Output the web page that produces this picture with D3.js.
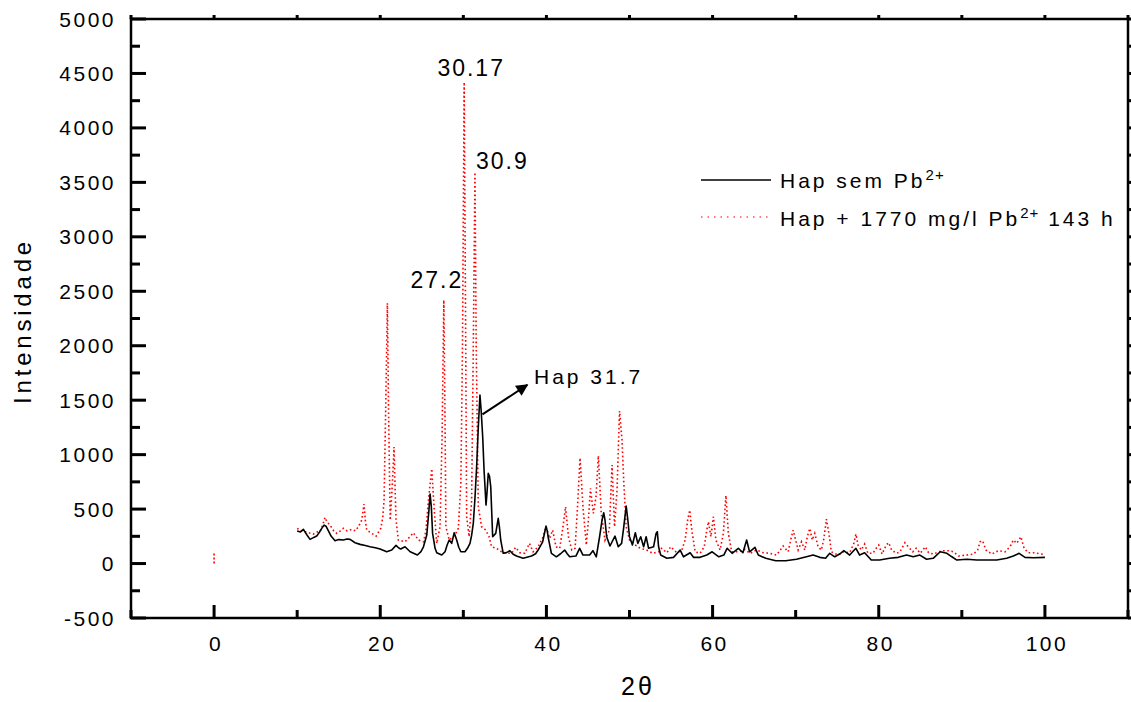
<!DOCTYPE html>
<meta charset="utf-8">
<style>
    body {
        margin: 0;
        background: #fff;
    }

    text {
        font-family: "Liberation Sans", Arial, sans-serif;
        fill: #000;
    }

    .ax text {
        font-size: 21px;
        letter-spacing: 2.5px;
    }

    .lbl {
        font-size: 21px;
        letter-spacing: 3px;
    }
</style>
<svg width="1131" height="702"></svg>
<script src="https://d3js.org/d3.v7.min.js"></script>
<script>
    var svg = d3.select("svg"),
        width = +svg.attr("width"),
        height = +svg.attr("height");

    // Hap sem Pb2+ (black, solid)
    var semTheta = [10.0, 10.4, 10.75, 11.2, 11.55, 12.0, 12.35, 12.7, 12.96, 13.24, 13.5, 13.76, 14.1, 14.56, 15.0, 15.56, 16.0, 16.37, 16.97, 17.57,
        18.2, 18.77, 19.4, 19.98, 20.78, 21.38, 21.9, 22.2, 22.46, 22.98, 23.6, 24.47, 24.9, 25.2, 25.6, 25.85, 26.0, 26.15, 26.3, 26.6,
        26.8, 27.4, 27.8, 28.05, 28.3, 28.6, 28.9, 29.2, 29.45, 29.7, 30.2, 30.5, 30.8, 31.0, 31.2, 31.4, 31.6, 31.8, 32.0, 32.15,
        32.33, 32.5, 32.73, 32.85, 33.0, 33.15, 33.3, 33.53, 33.9, 34.2, 34.35, 34.5, 34.8, 35.2, 35.6, 36.0, 36.4, 37.2, 38.2, 38.7,
        39.0, 39.55, 39.8, 39.95, 40.1, 40.2, 40.6, 41.2, 41.7, 42.2, 42.5, 42.8, 43.55, 44.0, 44.4, 45.2, 45.6, 46.0, 46.4, 46.7,
        46.9, 47.05, 47.25, 47.65, 48.25, 48.65, 49.05, 49.3, 49.6, 49.8, 50.0, 50.35, 50.7, 51.0, 51.35, 51.7, 52.0, 52.3, 52.9, 53.2,
        53.35, 53.5, 53.75, 54.5, 55.3, 56.1, 56.5, 57.3, 57.7, 58.5, 59.3, 59.95, 60.75, 61.35, 61.75, 62.35, 63.1, 63.65, 64.1, 64.45,
        65.1, 65.5, 66.4, 67.6, 68.8, 70.1, 71.3, 72.1, 72.9, 73.6, 74.1, 74.7, 75.3, 75.8, 76.5, 77.25, 77.7, 78.3, 79.1, 80.1,
        81.3, 82.35, 83.35, 84.15, 84.95, 85.75, 86.55, 87.4, 88.2, 88.8, 89.4, 90.6, 91.8, 93.0, 94.2, 95.4, 96.2, 96.9, 97.6, 98.6, 100];
    var semInt = [298, 290, 314, 260, 222, 240, 252, 290, 323, 353, 340, 301, 250, 209, 220, 216, 225, 222, 191, 176,
        165, 154, 145, 133, 108, 124, 167, 145, 133, 154, 108, 78, 110, 154, 262, 480, 638, 520, 277, 140,
        99, 78, 108, 170, 216, 185, 283, 216, 150, 108, 108, 140, 185, 260, 369, 600, 889, 1250, 1547, 1400,
        1164, 850, 537, 650, 828, 800, 705, 246, 277, 415, 330, 216, 94, 100, 118, 85, 69, 48, 69, 90,
        124, 200, 290, 344, 300, 246, 94, 62, 90, 124, 90, 62, 69, 140, 78, 78, 118, 62, 246, 400,
        466, 400, 246, 161, 252, 154, 185, 330, 528, 400, 246, 170, 283, 185, 246, 154, 246, 140, 154, 277,
        292, 154, 78, 48, 57, 124, 62, 99, 57, 57, 78, 108, 62, 78, 140, 94, 140, 99, 216, 108,
        149, 78, 48, 26, 26, 39, 62, 78, 57, 48, 94, 62, 87, 118, 78, 140, 78, 99, 32, 32,
        48, 57, 78, 62, 78, 39, 48, 108, 94, 62, 32, 39, 32, 32, 32, 48, 69, 94, 57, 53, 57];

    // Hap + 1770 mg/l Pb2+ 143 h (red, dotted)
    var pbTheta = [10.0, 10.5, 10.95, 11.5, 11.95, 12.4, 12.75, 13.1, 13.36, 13.6, 13.96, 14.4, 14.76, 15.2, 15.56, 16.0, 16.56, 17.0, 17.37, 17.77,
        18.05, 18.2, 18.37, 18.98, 19.5, 20.06, 20.3, 20.46, 20.65, 20.86, 21.0, 21.2, 21.46, 21.66, 21.8, 21.9, 22.18, 22.98, 23.5, 23.98,
        24.6, 25.2, 25.5, 25.8, 26.2, 26.5, 26.8, 27.2, 27.45, 27.65, 27.8, 27.9, 28.3, 29.0, 29.4, 29.7, 29.9, 30.1, 30.25, 30.4,
        30.7, 31.0, 31.2, 31.4, 31.55, 31.8, 32.2, 32.7, 33.1, 33.4, 34.0, 34.6, 35.2, 35.8, 36.3, 36.8, 37.4, 37.95, 38.4, 39.0,
        39.6, 39.95, 40.4, 40.75, 41.15, 41.6, 42.0, 42.3, 42.65, 43.05, 43.45, 43.7, 44.05, 44.4, 44.8, 45.05, 45.3, 45.65, 45.97, 46.25,
        46.6, 47.05, 47.57, 47.9, 48.2, 48.5, 48.8, 49.1, 49.3, 49.6, 50.0, 50.7, 51.3, 52.05, 52.8, 53.5, 53.85, 54.5, 54.95, 55.7,
        56.3, 56.7, 57.0, 57.25, 57.5, 57.9, 58.5, 59.0, 59.3, 59.5, 59.8, 60.1, 60.4, 60.9, 61.3, 61.6, 61.9, 62.3, 63.1, 63.9,
        64.5, 65.3, 66.1, 66.9, 67.7, 68.5, 69.1, 69.4, 69.7, 70.0, 70.3, 70.7, 71.1, 71.4, 71.7, 72.0, 72.3, 72.7, 73.1, 73.4,
        73.7, 74.0, 74.3, 75.1, 75.7, 76.5, 77.0, 77.25, 77.5, 77.9, 78.3, 78.7, 79.3, 79.7, 80.0, 80.4, 80.9, 81.2, 81.55, 82.15,
        82.55, 83.15, 83.55, 84.1, 84.5, 85.0, 85.6, 86.0, 86.6, 87.2, 87.8, 88.4, 89.0, 89.6, 90.6, 91.4, 91.9, 92.2, 92.5, 92.9,
        93.6, 94.4, 95.2, 95.8, 96.2, 96.6, 97.1, 97.5, 98.0, 98.8, 99.6, 100];
    var pbInt = [323, 300, 292, 280, 271, 290, 292, 360, 424, 380, 353, 300, 277, 300, 323, 300, 314, 300, 338, 399,
        546, 400, 307, 277, 252, 323, 420, 583, 1400, 2391, 1400, 399, 736, 1070, 650, 399, 216, 200, 240, 283,
        216, 200, 300, 583, 870, 491, 185, 338, 1200, 2419, 1300, 338, 216, 262, 323, 736, 2000, 4420, 2500, 430,
        246, 583, 2000, 3593, 2000, 521, 338, 307, 246, 154, 140, 108, 94, 94, 149, 99, 94, 185, 108, 154,
        246, 338, 231, 307, 154, 140, 338, 521, 246, 124, 140, 461, 970, 521, 170, 399, 690, 461, 613, 990,
        461, 216, 307, 904, 338, 675, 1400, 1134, 766, 338, 216, 170, 140, 124, 94, 108, 140, 99, 154, 99,
        124, 216, 399, 491, 307, 108, 94, 154, 307, 384, 246, 430, 216, 124, 277, 625, 277, 108, 108, 130,
        94, 124, 99, 94, 78, 161, 108, 216, 307, 216, 124, 200, 124, 246, 323, 216, 277, 154, 124, 231,
        408, 277, 108, 78, 108, 99, 185, 271, 170, 124, 179, 94, 94, 140, 170, 87, 170, 191, 124, 94,
        108, 191, 154, 108, 140, 94, 154, 99, 87, 108, 118, 118, 108, 69, 78, 87, 124, 200, 209, 124,
        87, 118, 108, 154, 216, 185, 246, 140, 99, 99, 87, 78];

    // stray red points at 2theta = 0
    var pbZeroTheta = [0, 0];
    var pbZeroInt = [0, 95];

    var xTicks = [0, 20, 40, 60, 80, 100];
    var yTicks = [-500, 0, 500, 1000, 1500, 2000, 2500, 3000, 3500, 4000, 4500, 5000];

    var peakLabels = [
        { text: "30.17", theta: 30.1, val: 4420, anchor: "middle", dx: 7, dy: -6 },
        { text: "30.9", theta: 31.4, val: 3593, anchor: "start", dx: 1, dy: -3 },
        { text: "27.2", theta: 27.65, val: 2419, anchor: "middle", dx: -7, dy: -12 }
    ];

    var x = d3.scaleLinear().domain([-10, 110]).range([131, 1128]);
    var y = d3.scaleLinear().domain([-500, 5000]).range([618, 19]);

    svg.append("rect").attr("width", width).attr("height", height).attr("fill", "#fff");

    function pts(tt, vv) {
        return tt.map(function (t, i) { return [t, vv[i]]; });
    }

    var line = d3.line()
        .x(function (d) { return x(d[0]); })
        .y(function (d) { return y(d[1]); });

    // red dotted first, black on top
    svg.append("path")
        .datum(pts(pbTheta, pbInt))
        .attr("d", line)
        .attr("fill", "none")
        .attr("stroke", "#ff0000")
        .attr("stroke-width", 1.6)
        .attr("stroke-dasharray", "1.6,2.6");

    svg.append("path")
        .datum(pts(pbZeroTheta, pbZeroInt))
        .attr("d", line)
        .attr("fill", "none")
        .attr("stroke", "#ff0000")
        .attr("stroke-width", 1.6)
        .attr("stroke-dasharray", "2,2");

    svg.append("path")
        .datum(pts(semTheta, semInt))
        .attr("d", line)
        .attr("fill", "none")
        .attr("stroke", "#000")
        .attr("stroke-width", 1.6)
        .attr("stroke-linejoin", "round");

    // tick labels placed with the scales
    svg.append("g").attr("class", "ax")
        .selectAll("text").data(xTicks).enter().append("text")
        .attr("x", function (d) { return x(d) + 2; })
        .attr("y", 651)
        .attr("text-anchor", "middle")
        .text(function (d) { return String(d); });

    svg.append("g").attr("class", "ax")
        .selectAll("text").data(yTicks).enter().append("text")
        .attr("x", 116)
        .attr("y", function (d) { return y(d) + 7.5; })
        .attr("text-anchor", "end")
        .text(function (d) { return String(d); });

    // axis titles
    svg.append("text")
        .attr("x", 638).attr("y", 695)
        .attr("text-anchor", "middle")
        .style("font-size", "25px")
        .style("letter-spacing", "3px")
        .text("2θ");

    svg.append("text")
        .attr("transform", "translate(31,321) rotate(-90)")
        .attr("text-anchor", "middle")
        .style("font-size", "24px")
        .style("letter-spacing", "3.8px")
        .text("Intensidade");

    // peak labels
    svg.selectAll(".peak")
        .data(peakLabels)
        .enter().append("text")
        .attr("class", "peak")
        .attr("x", function (d) { return x(d.theta) + d.dx; })
        .attr("y", function (d) { return y(d.val) + d.dy; })
        .attr("text-anchor", function (d) { return d.anchor; })
        .style("font-size", "23px")
        .style("letter-spacing", "2px")
        .text(function (d) { return d.text; });

    // arrow to Hap 31.7
    svg.append("defs").append("marker")
        .attr("id", "ah")
        .attr("viewBox", "0 0 10 10")
        .attr("refX", 9).attr("refY", 5)
        .attr("markerWidth", 17).attr("markerHeight", 12)
        .attr("markerUnits", "userSpaceOnUse")
        .attr("orient", "auto")
        .append("path")
        .attr("d", "M0,0L10,5L0,10z")
        .attr("fill", "#000");

    svg.append("line")
        .attr("x1", x(32.3)).attr("y1", y(1370))
        .attr("x2", x(37.7)).attr("y2", y(1640))
        .attr("stroke", "#000")
        .attr("stroke-width", 2)
        .attr("marker-end", "url(#ah)");

    svg.append("text")
        .attr("class", "lbl")
        .attr("x", 534).attr("y", 384)
        .text("Hap 31.7");

    // legend
    var legend = svg.append("g");
    legend.append("line")
        .attr("x1", 701).attr("x2", 771).attr("y1", 180).attr("y2", 180)
        .attr("stroke", "#000").attr("stroke-width", 1.3);
    legend.append("line")
        .attr("x1", 701).attr("x2", 771).attr("y1", 217).attr("y2", 217)
        .attr("stroke", "#ff5050").attr("stroke-width", 1.3).attr("stroke-dasharray", "1.5,5");

    var t1 = legend.append("text").attr("class", "lbl").attr("x", 780).attr("y", 188);
    t1.append("tspan").text("Hap sem Pb");
    t1.append("tspan").attr("dy", -8).style("font-size", "15px").style("letter-spacing", "1px").text("2+");

    var t2 = legend.append("text").attr("class", "lbl").attr("x", 780).attr("y", 226);
    t2.append("tspan").text("Hap + 1770 mg/l Pb");
    t2.append("tspan").attr("dy", -8).style("font-size", "15px").style("letter-spacing", "1px").text("2+");
    t2.append("tspan").attr("dy", 8).text(" 143 h");

    // tick marks: bottom/left inward, top/right outward
    var xAll = d3.range(-10, 111, 10);
    var yAll = d3.range(-500, 5001, 250);
    var tg = svg.append("g").attr("fill", "#000");

    tg.selectAll(".bt").data(xAll).enter().append("rect")
        .attr("x", function (d) { return x(d) - 1.5; })
        .attr("width", 3)
        .attr("y", function (d) { return xTicks.indexOf(d) >= 0 ? 605 : 610; })
        .attr("height", function (d) { return xTicks.indexOf(d) >= 0 ? 13 : 8; });

    tg.selectAll(".tt").data(xAll).enter().append("rect")
        .attr("x", function (d) { return x(d) - 1.5; })
        .attr("width", 3)
        .attr("y", 15).attr("height", 4);

    tg.selectAll(".lt").data(yAll).enter().append("rect")
        .attr("y", function (d) { return y(d) - 1.5; })
        .attr("height", 3)
        .attr("x", 131)
        .attr("width", function (d) { return d % 500 === 0 ? 15 : 9; });

    tg.selectAll(".rt").data(yAll).enter().append("rect")
        .attr("y", function (d) { return y(d) - 1.5; })
        .attr("height", 3)
        .attr("x", 1128).attr("width", 6);

    // frame
    svg.append("rect")
        .attr("x", 131).attr("y", 19)
        .attr("width", 1128 - 131).attr("height", 618 - 19)
        .attr("fill", "none")
        .attr("stroke", "#000")
        .attr("stroke-width", 2.5);
</script>
